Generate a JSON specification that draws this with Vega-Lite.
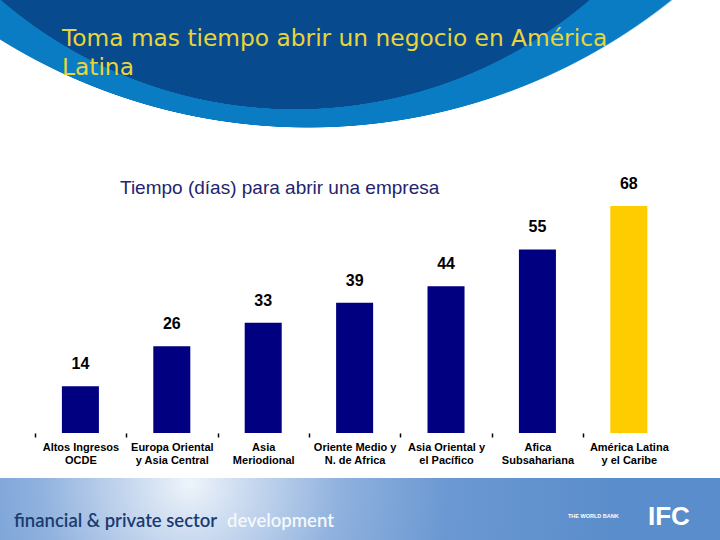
{
  "$schema": "https://vega.github.io/schema/vega-lite/v6.json",
  "padding": 0,
  "background": "white",
  "spacing": 0,
  "bounds": "flush",
  "config": {"view": {"stroke": null}},
  "vconcat": [
    {
      "width": 720,
      "height": 160,
      "data": {"values": [{"parte": "encabezado"}]},
      "mark": {
        "type": "rect",
        "color": {
          "gradient": "radial",
          "x1": 0.3914, "y1": 0.0758, "r1": 0.4382,
          "x2": 0.4281, "y2": -0.2453, "r2": 0.8118,
          "stops": [
            {"offset": 0, "color": "#084a8e"},
            {"offset": 0.5, "color": "#084a8e"},
            {"offset": 0.51, "color": "#0a7cc4"},
            {"offset": 0.985, "color": "#0a7cc4"},
            {"offset": 1, "color": "#ffffff"}
          ]
        }
      },
      "encoding": {},
      "title": {
        "text": ["Toma mas tiempo abrir un negocio en América", "Latina"],
        "anchor": "start",
        "frame": "group",
        "orient": "top",
        "offset": -80,
        "dx": 62,
        "font": "DejaVu Sans",
        "fontSize": 23.3,
        "fontWeight": "normal",
        "color": "#e8d53a",
        "lineHeight": 29
      }
    },
    {
      "width": 720,
      "height": 318,
      "data": {
        "values": [
          {"region": "Altos Ingresos\nOCDE", "dias": 14, "grupo": "Otras regiones"},
          {"region": "Europa Oriental\ny Asia Central", "dias": 26, "grupo": "Otras regiones"},
          {"region": "Asia\nMeriodional", "dias": 33, "grupo": "Otras regiones"},
          {"region": "Oriente Medio y\nN. de Africa", "dias": 39, "grupo": "Otras regiones"},
          {"region": "Asia Oriental y\nel Pacífico", "dias": 44, "grupo": "Otras regiones"},
          {"region": "Afica\nSubsahariana", "dias": 55, "grupo": "Otras regiones"},
          {"region": "América Latina\ny el Caribe", "dias": 68, "grupo": "América Latina y el Caribe"}
        ]
      },
      "title": {
        "text": "Tiempo (días) para abrir una empresa",
        "anchor": "start",
        "frame": "group",
        "orient": "top",
        "offset": -38,
        "dx": 120,
        "font": "Liberation Sans",
        "fontSize": 19,
        "fontWeight": "normal",
        "color": "#24246e"
      },
      "encoding": {
        "x": {
          "field": "region",
          "type": "nominal",
          "sort": null,
          "scale": {"paddingInner": 0.595, "paddingOuter": 0.736, "align": 0.46},
          "axis": {
            "title": null,
            "offset": -45,
            "labelAngle": 0,
            "labelExpr": "split(datum.label, '\\n')",
            "labelFont": "Liberation Sans",
            "labelFontSize": 11,
            "labelFontWeight": "bold",
            "labelColor": "#000000",
            "labelLineHeight": 13,
            "labelPadding": 4,
            "labelOffset": 45.7,
            "domain": false,
            "ticks": true,
            "tickOffset": -45.7,
            "tickColor": "#000000",
            "tickWidth": 1.5,
            "tickSize": 4
          }
        },
        "y": {
          "field": "dias",
          "type": "quantitative",
          "scale": {"domain": [-13.48, 81.8], "nice": false, "zero": false},
          "axis": null
        }
      },
      "layer": [
        {
          "mark": {"type": "bar"},
          "encoding": {
            "y2": {"datum": 0},
            "color": {
              "field": "grupo",
              "type": "nominal",
              "scale": {"domain": ["Otras regiones", "América Latina y el Caribe"], "range": ["#000080", "#ffcc00"]},
              "legend": null
            }
          }
        },
        {
          "mark": {"type": "text", "baseline": "bottom", "dy": -14, "font": "Liberation Sans", "fontSize": 16, "fontWeight": "bold", "color": "#000000"},
          "encoding": {"text": {"field": "dias", "type": "quantitative"}}
        }
      ]
    },
    {
      "spacing": 0,
      "bounds": "flush",
      "hconcat": [
        {
          "width": 226,
          "height": 62,
          "data": {"values": [{"parte": "pie 1"}]},
          "mark": {
            "type": "rect",
            "color": {
              "gradient": "radial",
              "x1": 0.8407, "y1": 0.385, "r1": 0,
              "x2": 0.8407, "y2": 0.385, "r2": 1.9115,
              "stops": [
                {"offset": 0, "color": "#eef4fb"},
                {"offset": 0.12, "color": "#cddcf0"},
                {"offset": 0.35, "color": "#8fb1de"},
                {"offset": 0.6, "color": "#6b98d2"},
                {"offset": 1, "color": "#5a8dcb"}
              ]
            }
          },
          "encoding": {},
          "title": {
            "text": "financial & private sector",
            "anchor": "start",
            "frame": "group",
            "orient": "top",
            "offset": -52,
            "dx": 14,
            "font": "Lato",
            "fontSize": 18.5,
            "fontWeight": 600,
            "color": "#1b3b70"
          }
        },
        {
          "width": 334,
          "height": 62,
          "data": {"values": [{"parte": "pie 2"}]},
          "mark": {
            "type": "rect",
            "color": {
              "gradient": "radial",
              "x1": -0.1078, "y1": 0.4222, "r1": 0,
              "x2": -0.1078, "y2": 0.4222, "r2": 1.2934,
              "stops": [
                {"offset": 0, "color": "#eef4fb"},
                {"offset": 0.12, "color": "#cddcf0"},
                {"offset": 0.35, "color": "#8fb1de"},
                {"offset": 0.6, "color": "#6b98d2"},
                {"offset": 1, "color": "#5a8dcb"}
              ]
            }
          },
          "encoding": {},
          "title": {
            "text": "development",
            "anchor": "start",
            "frame": "group",
            "orient": "top",
            "offset": -52,
            "dx": 1,
            "font": "Lato",
            "fontSize": 18.5,
            "fontWeight": 600,
            "color": "#f4f8fc"
          }
        },
        {
          "width": 80,
          "height": 62,
          "data": {"values": [{"parte": "pie 3"}]},
          "mark": {
            "type": "rect",
            "color": {
              "gradient": "radial",
              "x1": -4.625, "y1": 0.175, "r1": 0,
              "x2": -4.625, "y2": 0.175, "r2": 5.4,
              "stops": [
                {"offset": 0, "color": "#eef4fb"},
                {"offset": 0.12, "color": "#cddcf0"},
                {"offset": 0.35, "color": "#8fb1de"},
                {"offset": 0.6, "color": "#6b98d2"},
                {"offset": 1, "color": "#5a8dcb"}
              ]
            }
          },
          "encoding": {},
          "title": {
            "text": "THE WORLD BANK",
            "anchor": "start",
            "frame": "group",
            "orient": "top",
            "offset": -41,
            "dx": 8,
            "font": "Liberation Sans",
            "fontSize": 5.5,
            "fontWeight": "bold",
            "color": "#ffffff"
          }
        },
        {
          "width": 80,
          "height": 62,
          "data": {"values": [{"parte": "pie 4"}]},
          "mark": {
            "type": "rect",
            "color": {
              "gradient": "radial",
              "x1": -5.625, "y1": 0.175, "r1": 0,
              "x2": -5.625, "y2": 0.175, "r2": 5.4,
              "stops": [
                {"offset": 0, "color": "#eef4fb"},
                {"offset": 0.12, "color": "#cddcf0"},
                {"offset": 0.35, "color": "#8fb1de"},
                {"offset": 0.6, "color": "#6b98d2"},
                {"offset": 1, "color": "#5a8dcb"}
              ]
            }
          },
          "encoding": {},
          "title": {
            "text": "IFC",
            "anchor": "start",
            "frame": "group",
            "orient": "top",
            "offset": -52,
            "dx": 8,
            "font": "Liberation Sans",
            "fontSize": 26,
            "fontWeight": "bold",
            "color": "#ffffff"
          }
        }
      ]
    }
  ]
}
